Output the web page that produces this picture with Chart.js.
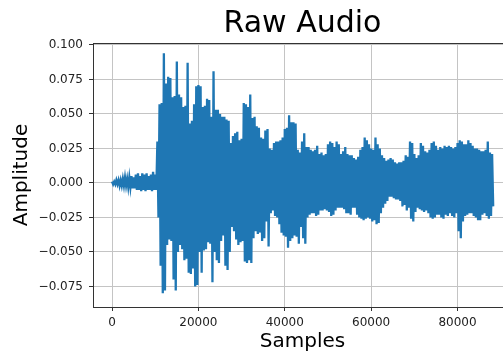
<!DOCTYPE html>
<html>
<head>
<meta charset="utf-8">
<script src="https://cdn.jsdelivr.net/npm/chart.js@4/dist/chart.umd.min.js"></script>
<style>
html, body { margin: 0; padding: 0; overflow: hidden; background: #fff; width: 503px; height: 352px; }
canvas { display: block; }
</style>
</head>
<body>
<canvas id="c" width="515" height="352"></canvas>
<script>
// Waveform envelope: one column every 500 samples.
const sampleStep = 500;
const upperPeaks = [
  0.001, 0.001, 0.002, 0.002, 0.002, 0.003, 0.004, 0.003, 0.004, 0.005,
  0.004, 0.006, 0.007, 0.005, 0.007, 0.006, 0.007, 0.005, 0.006, 0.008,
  0.006, 0.030, 0.057, 0.058, 0.094, 0.072, 0.077, 0.076, 0.062, 0.063,
  0.088, 0.064, 0.062, 0.055, 0.056, 0.087, 0.043, 0.045, 0.057, 0.070,
  0.071, 0.070, 0.055, 0.056, 0.061, 0.060, 0.048, 0.081, 0.053, 0.053,
  0.050, 0.048, 0.048, 0.046, 0.045, 0.029, 0.034, 0.036, 0.037, 0.031,
  0.032, 0.058, 0.057, 0.055, 0.064, 0.047, 0.048, 0.041, 0.040, 0.033,
  0.032, 0.038, 0.039, 0.025, 0.024, 0.029, 0.030, 0.030, 0.031, 0.033,
  0.039, 0.040, 0.049, 0.044, 0.044, 0.043, 0.024, 0.022, 0.030, 0.036,
  0.026, 0.026, 0.024, 0.023, 0.024, 0.027, 0.021, 0.022, 0.020, 0.021,
  0.028, 0.030, 0.029, 0.026, 0.030, 0.028, 0.021, 0.023, 0.026, 0.021,
  0.020, 0.020, 0.018, 0.017, 0.019, 0.024, 0.026, 0.033, 0.031, 0.028,
  0.025, 0.024, 0.033, 0.028, 0.025, 0.020, 0.018, 0.016, 0.017, 0.018,
  0.017, 0.015, 0.014, 0.015, 0.015, 0.016, 0.020, 0.019, 0.030, 0.029,
  0.021, 0.018, 0.020, 0.029, 0.027, 0.023, 0.022, 0.024, 0.029, 0.030,
  0.027, 0.024, 0.026, 0.025, 0.027, 0.026, 0.027, 0.026, 0.025, 0.026,
  0.029, 0.031, 0.030, 0.028, 0.028, 0.031, 0.029, 0.027, 0.025, 0.025,
  0.024, 0.023, 0.023, 0.024, 0.030, 0.022, 0.021
];
const lowerPeaks = [
  -0.001, -0.001, -0.001, -0.002, -0.002, -0.002, -0.002, -0.003, -0.003, -0.004,
  -0.004, -0.005, -0.005, -0.006, -0.005, -0.006, -0.005, -0.005, -0.006, -0.005,
  -0.005, -0.025, -0.060, -0.080, -0.078, -0.045, -0.041, -0.042, -0.070, -0.078,
  -0.050, -0.045, -0.048, -0.056, -0.055, -0.065, -0.066, -0.062, -0.075, -0.074,
  -0.050, -0.065, -0.049, -0.048, -0.043, -0.044, -0.072, -0.050, -0.056, -0.058,
  -0.042, -0.038, -0.060, -0.063, -0.050, -0.032, -0.035, -0.041, -0.045, -0.043,
  -0.042, -0.057, -0.058, -0.056, -0.058, -0.040, -0.035, -0.037, -0.036, -0.042,
  -0.040, -0.028, -0.046, -0.022, -0.020, -0.024, -0.025, -0.030, -0.036, -0.038,
  -0.039, -0.047, -0.042, -0.040, -0.038, -0.039, -0.044, -0.032, -0.040, -0.044,
  -0.025, -0.023, -0.022, -0.022, -0.024, -0.023, -0.020, -0.020, -0.019, -0.020,
  -0.021, -0.024, -0.023, -0.020, -0.018, -0.018, -0.018, -0.019, -0.022, -0.022,
  -0.023, -0.018, -0.018, -0.023, -0.025, -0.026, -0.027, -0.026, -0.025, -0.026,
  -0.028, -0.027, -0.030, -0.029, -0.022, -0.018, -0.015, -0.013, -0.010, -0.010,
  -0.011, -0.012, -0.012, -0.013, -0.017, -0.016, -0.020, -0.018, -0.026, -0.028,
  -0.021, -0.018, -0.019, -0.020, -0.021, -0.020, -0.022, -0.025, -0.026, -0.025,
  -0.023, -0.023, -0.025, -0.026, -0.023, -0.024, -0.022, -0.024, -0.025, -0.022,
  -0.035, -0.040, -0.028, -0.024, -0.023, -0.022, -0.022, -0.024, -0.025, -0.027,
  -0.027, -0.023, -0.022, -0.024, -0.026, -0.024, -0.017
];
const xTicks = [0, 20000, 40000, 60000, 80000];
const yTicks = [-0.075, -0.05, -0.025, 0, 0.025, 0.05, 0.075, 0.1];
const xRange = [-4410, 92610];
const yRange = [-0.0899, 0.1014];

const points = [];
upperPeaks.forEach((u, i) => {
  points.push({ x: i * sampleStep, y: u });
  points.push({ x: i * sampleStep + sampleStep / 2, y: lowerPeaks[i] });
});

const frame = {
  id: 'frame',
  afterDraw(chart) {
    const a = chart.chartArea, ctx = chart.ctx;
    ctx.save();
    ctx.strokeStyle = '#333';
    ctx.lineWidth = 1;
    ctx.beginPath();
    ctx.moveTo(a.left, a.top + 0.5);
    ctx.lineTo(a.right, a.top + 0.5);
    ctx.moveTo(a.right - 0.5, a.top);
    ctx.lineTo(a.right - 0.5, a.bottom);
    ctx.stroke();
    ctx.restore();
  }
};

const font = 'DejaVu Sans';
new Chart(document.getElementById('c'), {
  type: 'line',
  data: {
    datasets: [{
      data: points,
      borderColor: '#1f77b4',
      borderWidth: 2.3,
      pointRadius: 0,
      tension: 0,
      fill: false
    }]
  },
  options: {
    responsive: false,
    animation: false,
    devicePixelRatio: 1,
    layout: { padding: { left: 0, right: 3, top: 0, bottom: 0 } },
    plugins: {
      legend: { display: false },
      tooltip: { enabled: false },
      title: {
        display: true,
        text: 'Raw Audio',
        fullSize: false,
        color: '#000',
        font: { family: font, size: 30, weight: 'normal', lineHeight: 1.2 },
        padding: { top: 6, bottom: 1 }
      }
    },
    scales: {
      x: {
        type: 'linear',
        min: xRange[0],
        max: xRange[1],
        afterBuildTicks: s => { s.ticks = xTicks.map(v => ({ value: v })); },
        afterFit: s => { s.height = 45; },
        ticks: {
          autoSkip: false,
          maxRotation: 0,
          padding: 5,
          color: '#222',
          font: { family: font, size: 12 },
          callback: v => String(v)
        },
        grid: { color: '#c4c4c4', lineWidth: 1, tickLength: 4, tickColor: '#333' },
        border: { display: true, color: '#333', width: 1 },
        title: {
          display: true,
          text: 'Samples',
          color: '#000',
          font: { family: font, size: 20, lineHeight: 1 },
          padding: { top: 0, bottom: 0 }
        }
      },
      y: {
        type: 'linear',
        min: yRange[0],
        max: yRange[1],
        afterBuildTicks: s => { s.ticks = yTicks.map(v => ({ value: v })); },
        afterFit: s => { s.width = 93; },
        ticks: {
          autoSkip: false,
          padding: 6,
          color: '#222',
          font: { family: font, size: 12 },
          callback: v => v.toFixed(3).replace('-', '\u2212')
        },
        grid: { color: '#c4c4c4', lineWidth: 1, tickLength: 4, tickColor: '#333' },
        border: { display: true, color: '#333', width: 1 },
        title: {
          display: true,
          text: 'Amplitude',
          color: '#000',
          font: { family: font, size: 20, lineHeight: 1 },
          padding: { top: 12, bottom: 0 }
        }
      }
    }
  },
  plugins: [frame]
});
</script>
</body>
</html>
